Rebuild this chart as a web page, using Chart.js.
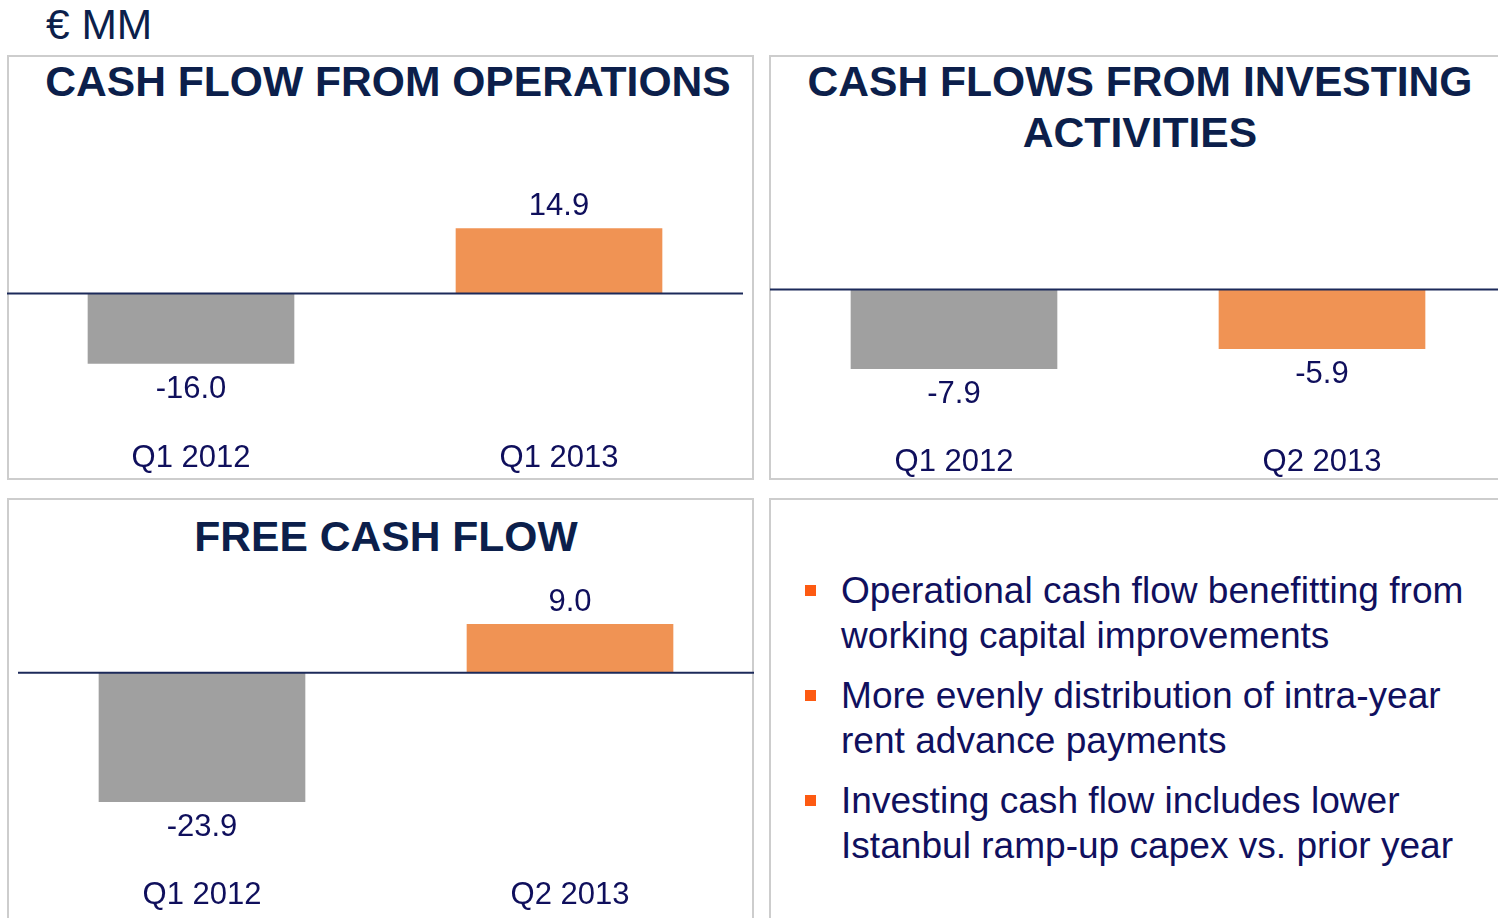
<!DOCTYPE html>
<html>
<head>
<meta charset="utf-8">
<script src="https://cdn.jsdelivr.net/npm/chart.js@4/dist/chart.umd.min.js"></script>
<style>
  html, body { margin: 0; padding: 0; background: #fff; overflow: hidden; }
  body { width: 1498px; height: 918px; position: relative; font-family: "Liberation Sans", Arial, sans-serif; }
  .unit { position: absolute; left: 46px; top: 1px; font-size: 42.5px; color: #0c1f4b; }
  .panel { position: absolute; border: 2px solid #cdcdcd; box-sizing: border-box; }
  .title { position: absolute; text-align: center; font-weight: bold; font-size: 42.6px; line-height: 51px; color: #0c1f4b; }
  .wrap { position: absolute; }
  ul.notes { position: absolute; left: 805px; top: 568px; margin: 0; padding: 0; list-style: none; width: 690px; }
  ul.notes li { position: relative; padding-left: 36px; font-size: 37.1px; line-height: 45px; color: #10105e; margin-bottom: 15px; }
  ul.notes li::before { content: ""; position: absolute; left: 0; top: 17px; width: 11px; height: 11px; background: #fd5a12; }
</style>
</head>
<body>
<div class="unit">€ MM</div>

<div class="panel" style="left:7px; top:55px; width:747px; height:425px;"></div>
<div class="panel" style="left:769px; top:55px; width:740px; height:425px;"></div>
<div class="panel" style="left:7px; top:498px; width:747px; height:440px;"></div>
<div class="panel" style="left:769px; top:498px; width:740px; height:440px;"></div>

<div class="title" style="left:7px; top:56px; width:762px;">CASH FLOW FROM OPERATIONS</div>
<div class="title" style="left:769px; top:56px; width:742px;">CASH FLOWS FROM INVESTING<br>ACTIVITIES</div>
<div class="title" style="left:7px; top:511px; width:758px;">FREE CASH FLOW</div>

<div class="wrap" style="left:7px; top:149px; width:736px; height:331px;"><canvas id="c1"></canvas></div>
<div class="wrap" style="left:770px; top:150px; width:736px; height:334px;"><canvas id="c2"></canvas></div>
<div class="wrap" style="left:18px; top:558px; width:736px; height:359px;"><canvas id="c3"></canvas></div>

<ul class="notes">
  <li>Operational cash flow benefitting from working capital improvements</li>
  <li>More evenly distribution of intra-year rent advance payments</li>
  <li>Investing cash flow includes lower Istanbul ramp-up capex vs. prior year</li>
</ul>

<script>
const opsLabels = ['Q1 2012', 'Q1 2013'];
const opsValues = [-16.0, 14.9];

const invLabels = ['Q1 2012', 'Q2 2013'];
const invValues = [-7.9, -5.9];

const fcfLabels = ['Q1 2012', 'Q2 2013'];
const fcfValues = [-23.9, 9.0];

const barColors = ['#a0a0a0', '#f09354'];
const textColor = '#0f0f5c';

// zero line drawn on top of the bars
const zeroLine = {
    id: 'zeroLine',
    afterDatasetsDraw(chart) {
        const {ctx, chartArea, scales} = chart;
        const y = scales.y.getPixelForValue(0);
        ctx.save();
        ctx.strokeStyle = '#1c2a5a';
        ctx.lineWidth = 2;
        ctx.beginPath();
        ctx.moveTo(chartArea.left, y);
        ctx.lineTo(chartArea.right, y);
        ctx.stroke();
        ctx.restore();
    }
};

// value labels above / below each bar
const valueLabels = {
    id: 'valueLabels',
    afterDatasetsDraw(chart) {
        const {ctx} = chart;
        const ds = chart.data.datasets[0];
        chart.getDatasetMeta(0).data.forEach((bar, i) => {
            const v = ds.data[i];
            ctx.save();
            ctx.font = '31px "Liberation Sans", Arial, sans-serif';
            ctx.fillStyle = textColor;
            ctx.textAlign = 'center';
            ctx.textBaseline = 'middle';
            const y = v >= 0 ? bar.y - 22 : bar.y + 26;
            ctx.fillText(v.toFixed(1), bar.x, y);
            ctx.restore();
        });
    }
};

function renderBars(id, labels, values, yMin, yMax) {
    return new Chart(document.getElementById(id), {
        type: 'bar',
        data: {
            labels: labels,
            datasets: [{
                data: values,
                backgroundColor: barColors,
                borderWidth: 0,
                barThickness: 206
            }]
        },
        options: {
            responsive: true,
            maintainAspectRatio: false,
            animation: false,
            layout: { padding: 0 },
            scales: {
                x: {
                    grid: { display: false, drawTicks: false },
                    border: { display: false },
                    ticks: {
                        color: textColor,
                        padding: 3,
                        font: { family: '"Liberation Sans", Arial, sans-serif', size: 31 }
                    }
                },
                y: {
                    display: false,
                    min: yMin,
                    max: yMax
                }
            },
            plugins: {
                legend: { display: false },
                tooltip: { enabled: false }
            }
        },
        plugins: [zeroLine, valueLabels]
    });
}

renderBars('c1', opsLabels, opsValues, -32.8, 33.1);
renderBars('c2', invLabels, invValues, -15.1, 13.9);
renderBars('c3', fcfLabels, fcfValues, -37.3, 21.3);
</script>
</body>
</html>
